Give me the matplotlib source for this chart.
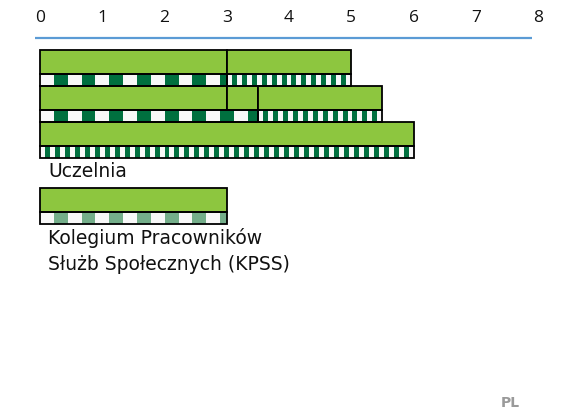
import matplotlib
matplotlib.use("Agg")
import matplotlib.pyplot as plt
from matplotlib.patches import Rectangle

# years on the scale
ticks = [0, 1, 2, 3, 4, 5, 6, 7, 8]

# Uczelnia: green blocks (segment boundaries) and where coarse pattern turns fine
uczelnia_blocks = [[0, 3, 5], [0, 3, 3.5, 5.5], [0, 6]]
uczelnia_bands = [[0, 3, 5], [0, 3.5, 5.5], [0, 6]]
uczelnia_fine_from = [3, 3.5, 0]

# KPSS
kpss_blocks = [0, 3]
kpss_bands = [0, 3]

GREEN = "#8DC63F"
DARK = "#00703F"
LIGHT = "#74AE8A"
WHITE = "#F8F8F8"

# px -> data helpers (x in years, y in pixels from the top)
X0, SCALE = 40, 62.25

fig = plt.figure(figsize=(5.62, 4.12), dpi=100)
ax = fig.add_axes([0, 0, 1, 1])
ax.set_xlim(-X0 / SCALE, (562 - X0) / SCALE)
ax.set_ylim(412, 0)
ax.axis("off")

for t in ticks:
    ax.text(t, 18, str(t), ha="center", va="center", fontsize=12.5,
            family="Open Sans", color="#111111")
ax.hlines(38, -5 / SCALE, 492 / SCALE, color="#5B9BD5", lw=1.6)


def pattern(x0, x1, y, h, period, dark_frac, dark_col, offset=0.0):
    ax.add_patch(Rectangle((x0, y), x1 - x0, h, facecolor=WHITE, lw=0, zorder=2))
    k = int((x0 - offset) // period) - 1
    while True:
        s = offset + k * period + period * (1 - dark_frac)
        e = s + period * dark_frac
        if s >= x1:
            break
        a, b = max(s, x0), min(e, x1)
        if b > a:
            ax.add_patch(Rectangle((a, y), b - a, h, facecolor=dark_col, lw=0, zorder=3))
        k += 1


def row(top, blocks, bands, fine_from, dark_col):
    gh, bh = 24, 12
    for a, b in zip(blocks[:-1], blocks[1:]):
        ax.add_patch(Rectangle((a, top), b - a, gh, facecolor=GREEN,
                               edgecolor="black", lw=1.3, zorder=4))
    for a, b in zip(bands[:-1], bands[1:]):
        if b <= fine_from:
            pattern(a, b, top + gh, bh, 0.445, 0.5, dark_col)
        else:
            pattern(a, b, top + gh, bh, 0.16, 0.5, dark_col, offset=a)
        ax.add_patch(Rectangle((a, top + gh), b - a, bh, facecolor="none",
                               edgecolor="black", lw=1.3, zorder=5))


tops = [50, 86, 122]
for top, bl, bd, ff in zip(tops, uczelnia_blocks, uczelnia_bands, uczelnia_fine_from):
    row(top, bl, bd, ff, DARK)

ax.text(8 / SCALE, 171, "Uczelnia", ha="left", va="center", fontsize=13.5,
        family="DejaVu Sans", color="#111111")

row(188, kpss_blocks, kpss_bands, kpss_blocks[-1], LIGHT)

ax.text(8 / SCALE, 238, "Kolegium Pracowników", ha="left", va="center",
        fontsize=13.5, family="DejaVu Sans", color="#111111")
ax.text(8 / SCALE, 264, "Służb Społecznych (KPSS)", ha="left", va="center",
        fontsize=13.5, family="DejaVu Sans", color="#111111")

ax.text((510 - X0) / SCALE, 403, "PL", ha="center", va="center",
        fontsize=10, fontweight="bold", family="DejaVu Sans", color="#9A9A9A")

fig.savefig("out.png", dpi=100)
